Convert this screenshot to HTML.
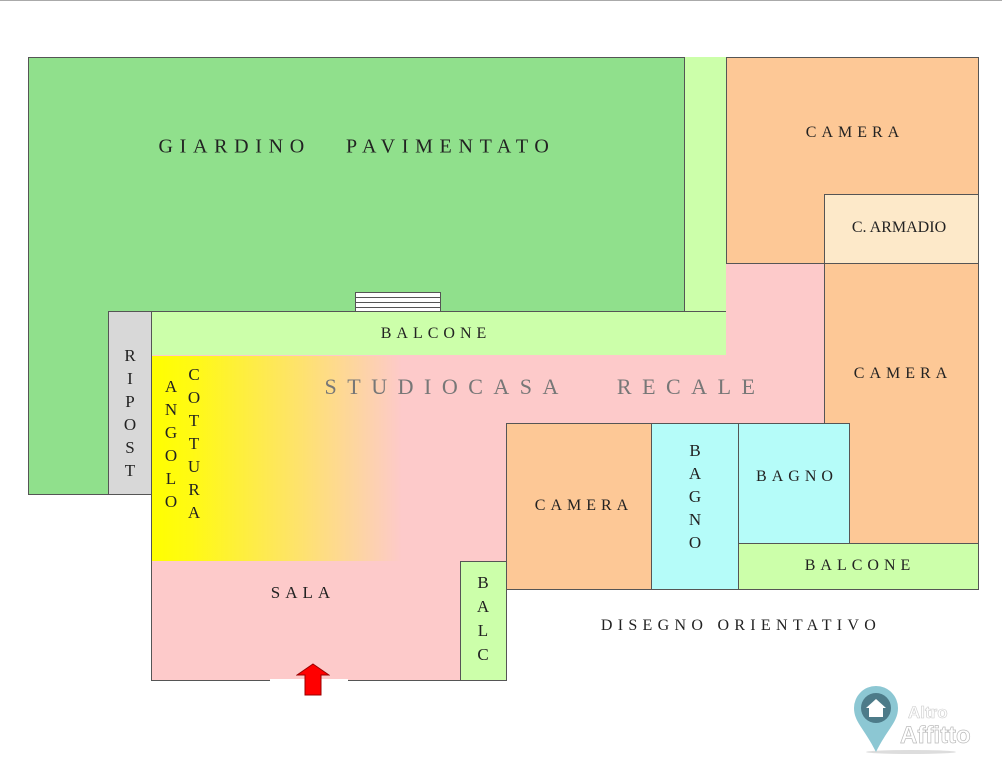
<!DOCTYPE html>
<html><head><meta charset="utf-8"><style>
body{margin:0;width:1002px;height:768px;background:#fff;position:relative;overflow:hidden;font-family:"Liberation Serif",serif;}
.r{position:absolute;box-sizing:border-box;}
.t{position:absolute;font-size:16px;letter-spacing:5px;color:#222;white-space:nowrap;transform:translate(-50%,-50%);}
.v{position:absolute;font-size:17px;color:#222;line-height:23px;text-align:center;width:20px;transform:translateX(-50%);}
</style></head><body>
<div class="r" style="left:0;top:0;width:1002px;height:1px;background:#aaa"></div>
<div class="r" style="left:28px;top:57px;width:657px;height:255px;background:#90e08c;border:1px solid #555;border-bottom:none"></div>
<div class="r" style="left:28px;top:300px;width:81px;height:195px;background:#90e08c;border-left:1px solid #555;border-bottom:1px solid #555"></div>
<div class="r" style="left:684px;top:57px;width:43px;height:299px;background:#ccffaa;border-right:1px solid #555"></div>
<div class="r" style="left:151px;top:311px;width:575px;height:45px;background:#ccffaa;border-top:1px solid #555;border-bottom:1px solid #555"></div>
<div class="r" style="left:684px;top:57px;width:1px;height:255px;background:#555"></div>
<div class="r" style="left:108px;top:311px;width:44px;height:184px;background:#d8d8d8;border:1px solid #555"></div>
<div class="r" style="left:355px;top:292px;width:86px;height:20px;background:repeating-linear-gradient(#fff 0,#fff 4px,#555 4px,#555 5px);border:1px solid #555"></div>
<div class="r" style="left:726px;top:263px;width:99px;height:161px;background:#fdcaca"></div>
<div class="r" style="left:151px;top:355px;width:674px;height:69px;background:#fdcaca"></div>
<div class="r" style="left:151px;top:355px;width:356px;height:326px;background:#fdcaca;border-left:1px solid #555;border-bottom:1px solid #555"></div>
<div class="r" style="left:152px;top:356px;width:354px;height:205px;background:linear-gradient(90deg,rgba(255,255,0,1) 0px,rgba(255,255,0,0.9) 40px,rgba(255,255,0,0.45) 150px,rgba(255,255,0,0) 250px)"></div>
<div class="r" style="left:726px;top:57px;width:253px;height:207px;background:#fdc896;border:1px solid #555"></div>
<div class="r" style="left:824px;top:194px;width:155px;height:70px;background:#fde9c9;border:1px solid #555"></div>
<div class="r" style="left:824px;top:263px;width:155px;height:281px;background:#fdc896;border:1px solid #555"></div>
<div class="r" style="left:506px;top:423px;width:146px;height:167px;background:#fdc896;border:1px solid #555"></div>
<div class="r" style="left:651px;top:423px;width:88px;height:167px;background:#b5fcf9;border:1px solid #555"></div>
<div class="r" style="left:738px;top:423px;width:112px;height:121px;background:#b5fcf9;border:1px solid #555"></div>
<div class="r" style="left:738px;top:543px;width:241px;height:47px;background:#ccffaa;border:1px solid #555"></div>
<div class="r" style="left:460px;top:561px;width:47px;height:120px;background:#ccffaa;border:1px solid #555"></div>
<div class="r" style="left:270px;top:679px;width:78px;height:3px;background:#fff"></div>
<svg class="r" style="left:296px;top:663px" width="34" height="34"><polygon points="17,1 33,12 25,12 25,32 9,32 9,12 1,12" fill="#f00" stroke="#900" stroke-width="1"/></svg>
<div class="t" style="left:357px;top:147px;font-size:20px;letter-spacing:6.7px">GIARDINO&nbsp;&nbsp;&nbsp;PAVIMENTATO</div>
<div class="t" style="left:436px;top:334px;font-size:16px">BALCONE</div>
<div class="t" style="left:545px;top:387px;font-size:22px;letter-spacing:10.5px;color:#777">STUDIOCASA&nbsp;&nbsp;&nbsp;RECALE</div>
<div class="t" style="left:855px;top:133px">CAMERA</div>
<div class="t" style="left:899px;top:228px;font-size:16px;letter-spacing:0">C. ARMADIO</div>
<div class="t" style="left:903px;top:374px">CAMERA</div>
<div class="t" style="left:584px;top:506px">CAMERA</div>
<div class="t" style="left:797px;top:477px">BAGNO</div>
<div class="t" style="left:860px;top:566px">BALCONE</div>
<div class="t" style="left:303px;top:593px;font-size:17px">SALA</div>
<div class="t" style="left:741px;top:626px;font-size:16px;letter-spacing:5.3px">DISEGNO ORIENTATIVO</div>
<div class="v" style="left:130px;top:344px">R<br>I<br>P<br>O<br>S<br>T</div>
<div class="v" style="left:171px;top:375px">A<br>N<br>G<br>O<br>L<br>O</div>
<div class="v" style="left:194px;top:363px">C<br>O<br>T<br>T<br>U<br>R<br>A</div>
<div class="v" style="left:483px;top:571px;line-height:24px">B<br>A<br>L<br>C</div>
<div class="v" style="left:695px;top:439px">B<br>A<br>G<br>N<br>O</div>
<svg class="r" style="left:836px;top:686px" width="160" height="72">
<ellipse cx="75" cy="66" rx="45" ry="2" fill="#ddd"/>
<path d="M40 66 C28 42 18 36 18 22 A22 22 0 0 1 62 22 C62 36 52 42 40 66Z" fill="#8cc7d3"/>
<circle cx="40" cy="22" r="15" fill="#4d7b89"/>
<polygon points="40,13 50,22 47,22 47,31 33,31 33,22 30,22" fill="#fff"/>
<text x="72" y="32" font-family="Liberation Sans" font-weight="bold" font-size="17" fill="#fff" stroke="#ccc" stroke-width="0.6">Altro</text>
<text x="64" y="57" font-family="Liberation Sans" font-weight="bold" font-size="24" fill="#fff" stroke="#bbb" stroke-width="0.7">Affitto</text>
</svg>
</body></html>
